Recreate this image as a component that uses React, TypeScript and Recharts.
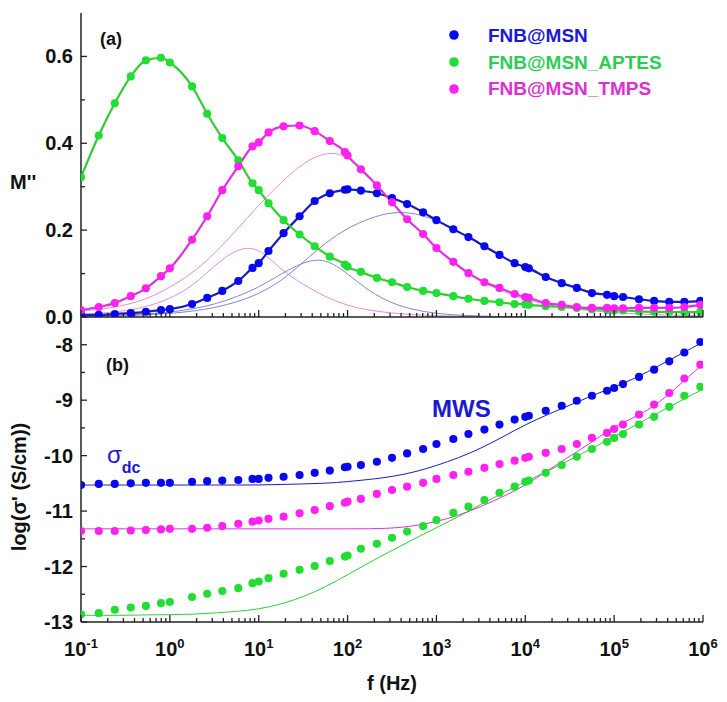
import { ComposedChart, Line, Scatter, XAxis, YAxis, ZAxis } from 'recharts';

// log10(f / Hz) of the measured points
const logF = [
  -1, -0.8, -0.62, -0.44, -0.27, -0.1, 0, 0.25, 0.42, 0.59, 0.77, 0.93, 1.0, 1.11, 1.28, 1.46,
  1.63, 1.8, 1.97, 2.0, 2.15, 2.33, 2.5, 2.67, 2.85, 3.0, 3.19, 3.36, 3.54, 3.71, 3.88, 4.0,
  4.04, 4.23, 4.41, 4.58, 4.75, 4.92, 5.0, 5.1, 5.28, 5.45, 5.62, 5.79, 5.97,
];

// (a) M''
const mMsn = [
  0.005, 0.005, 0.007, 0.009, 0.012, 0.016, 0.018, 0.03, 0.044, 0.06, 0.083, 0.113, 0.124, 0.152,
  0.193, 0.232, 0.267, 0.285, 0.293, 0.294, 0.291, 0.285, 0.274, 0.26, 0.241, 0.223, 0.202, 0.184,
  0.163, 0.143, 0.124, 0.115, 0.112, 0.092, 0.078, 0.067, 0.055, 0.051, 0.048, 0.046, 0.041, 0.037,
  0.035, 0.035, 0.037,
];
const mAptes = [
  0.322, 0.418, 0.492, 0.554, 0.591, 0.597, 0.586, 0.531, 0.468, 0.412, 0.361, 0.308, 0.292, 0.262,
  0.223, 0.19, 0.163, 0.139, 0.121, 0.116, 0.104, 0.09, 0.08, 0.069, 0.06, 0.055, 0.048, 0.042,
  0.037, 0.034, 0.03, 0.029, 0.028, 0.025, 0.023, 0.021, 0.018, 0.016, 0.015, 0.015, 0.013, 0.012,
  0.012, 0.011, 0.012,
];
const mTmps = [
  0.016, 0.023, 0.032, 0.048, 0.066, 0.094, 0.112, 0.178, 0.232, 0.292, 0.347, 0.393, 0.402, 0.425,
  0.439, 0.441, 0.428, 0.405, 0.38, 0.372, 0.34, 0.303, 0.264, 0.225, 0.191, 0.159, 0.127, 0.101,
  0.08, 0.067, 0.053, 0.046, 0.044, 0.032, 0.028, 0.023, 0.021, 0.021, 0.02, 0.02, 0.021, 0.021,
  0.021, 0.023, 0.028,
];

// (b) log(sigma')
const sMsn = [
  -10.53, -10.51, -10.51, -10.5, -10.49, -10.49, -10.49, -10.47, -10.46, -10.45, -10.44, -10.42,
  -10.42, -10.4, -10.38, -10.35, -10.31, -10.27, -10.21, -10.2, -10.17, -10.11, -10.04, -9.96, -9.88,
  -9.79, -9.7, -9.61, -9.53, -9.44, -9.35, -9.3, -9.28, -9.19, -9.1, -9.01, -8.92, -8.83, -8.78,
  -8.71, -8.58, -8.45, -8.3, -8.14, -7.95,
];
const sAptes = [
  -12.86, -12.84, -12.78, -12.74, -12.71, -12.66, -12.64, -12.55, -12.49, -12.44, -12.39, -12.3,
  -12.27, -12.21, -12.13, -12.06, -11.99, -11.9, -11.82, -11.8, -11.68, -11.59, -11.48, -11.37,
  -11.27, -11.16, -11.03, -10.92, -10.8, -10.67, -10.56, -10.47, -10.45, -10.31, -10.17, -10.02,
  -9.88, -9.75, -9.68, -9.61, -9.44, -9.3, -9.12, -8.92, -8.76,
];
const sTmps = [
  -11.36, -11.36, -11.36, -11.35, -11.34, -11.33, -11.32, -11.32, -11.3, -11.27, -11.23, -11.19,
  -11.17, -11.14, -11.1, -11.04, -10.98, -10.91, -10.85, -10.83, -10.78, -10.69, -10.62, -10.56,
  -10.49, -10.42, -10.35, -10.29, -10.22, -10.15, -10.09, -10.04, -10.02, -9.95, -9.88, -9.79, -9.68,
  -9.59, -9.52, -9.44, -9.26, -9.08, -8.87, -8.61, -8.36,
];

// fitted curves, on a quarter-decade grid
const fitLogF = [
  -1, -0.75, -0.5, -0.25, 0, 0.25, 0.5, 0.75, 1, 1.25, 1.5, 1.75, 2, 2.25, 2.5, 2.75, 3, 3.25, 3.5,
  3.75, 4, 4.25, 4.5, 4.75, 5, 5.25, 5.5, 5.75, 6,
];
const compMsn1 = [
  0.002, 0.003, 0.004, 0.007, 0.011, 0.018, 0.029, 0.046, 0.068, 0.099, 0.127, 0.136, 0.1, 0.058,
  0.031, 0.016, 0.008, 0.004, 0.002, 0.001, 0, 0, 0, 0, 0, 0, 0, 0, 0,
];
const compMsn2 = [
  0.001, 0.002, 0.003, 0.005, 0.008, 0.013, 0.021, 0.034, 0.053, 0.082, 0.126, 0.171, 0.205, 0.228,
  0.242, 0.24, 0.223, 0.199, 0.165, 0.137, 0.113, 0.09, 0.072, 0.057, 0.048, 0.041, 0.036, 0.034,
  0.035,
];
const compTmps1 = [
  0.006, 0.009, 0.014, 0.024, 0.042, 0.07, 0.118, 0.158, 0.162, 0.108, 0.075, 0.046, 0.026, 0.015,
  0.009, 0.005, 0.003, 0.002, 0.001, 0.001, 0, 0, 0, 0, 0, 0, 0, 0, 0,
];
const compTmps2 = [
  0.014, 0.018, 0.027, 0.042, 0.068, 0.1, 0.145, 0.2, 0.258, 0.31, 0.355, 0.381, 0.373, 0.324, 0.264,
  0.21, 0.158, 0.117, 0.083, 0.058, 0.04, 0.028, 0.02, 0.014, 0.01, 0.007, 0.005, 0.004, 0.003,
];
const fitSMsn = [
  -10.53, -10.53, -10.53, -10.53, -10.53, -10.53, -10.53, -10.53, -10.53, -10.52, -10.51, -10.5,
  -10.47, -10.43, -10.38, -10.3, -10.18, -10.04, -9.87, -9.66, -9.44, -9.26, -9.09, -8.92, -8.76,
  -8.6, -8.38, -8.17, -7.95,
];
const fitSAptes = [
  -12.88, -12.88, -12.88, -12.87, -12.87, -12.86, -12.84, -12.81, -12.77, -12.68, -12.55, -12.37,
  -12.15, -11.92, -11.71, -11.5, -11.3, -11.1, -10.88, -10.67, -10.47, -10.28, -10.08, -9.87, -9.65,
  -9.45, -9.22, -9.01, -8.8,
];
const fitSTmps = [
  -11.32, -11.32, -11.32, -11.32, -11.32, -11.32, -11.32, -11.32, -11.32, -11.32, -11.32, -11.32,
  -11.32, -11.32, -11.31, -11.27, -11.19, -11.08, -10.92, -10.74, -10.54, -10.27, -10.01, -9.76,
  -9.47, -9.3, -9.06, -8.7, -8.35,
];

const seriesNames = ['FNB@MSN', 'FNB@MSN_APTES', 'FNB@MSN_TMPS'];
const dotColors = ['#0808ee', '#22dd33', '#ff22ee'];
const lineColors = ['#1c1cb8', '#33cc33', '#e030e0'];
const textColors = ['#1a1ad0', '#2ecc55', '#dd30d0'];

const xMajor = [-1, 0, 1, 2, 3, 4, 5, 6];
const xTicks = xMajor.concat(
  xMajor.slice(0, -1).flatMap((d) => [2, 3, 4, 5, 6, 7, 8, 9].map((k) => d + Math.log10(k))),
);
const yTopTicks = [0, 0.1, 0.2, 0.3, 0.4, 0.5, 0.6];
const yTopMajor = [0, 0.2, 0.4, 0.6];
const yBotTicks = [-13, -12.5, -12, -11.5, -11, -10.5, -10, -9.5, -9, -8.5, -8];
const yBotMajor = [-13, -12, -11, -10, -9, -8];

const FONT = '"Liberation Sans", Arial, sans-serif';
const AXIS = '#222';

const pts = (xs: number[], ys: number[]) => xs.map((x, i) => ({ x, y: ys[i] }));

function XTick(props: any) {
  const { x, y, payload, dir, labels } = props;
  const v = payload.value;
  const major = xMajor.includes(v);
  const len = major ? 7 : 4;
  return (
    <g>
      <line x1={x} x2={x} y1={y} y2={y + dir * len} stroke={AXIS} strokeWidth={1.3} />
      {labels && major && (
        <text x={x} y={y + 34} textAnchor="middle" fontFamily={FONT} fontWeight="bold" fontSize={20} fill="#111">
          10
          <tspan dy={-8} fontSize={13}>
            {v}
          </tspan>
        </text>
      )}
    </g>
  );
}

function YTick(props: any) {
  const { x, y, payload, majors, digits } = props;
  const v = payload.value;
  const major = majors.includes(v);
  return (
    <g>
      <line x1={x} x2={x + (major ? 6 : 4)} y1={y} y2={y} stroke={AXIS} strokeWidth={1.3} />
      {major && (
        <text x={x - 8} y={y + 7} textAnchor="end" fontFamily={FONT} fontWeight="bold" fontSize={20} fill="#111">
          {v.toFixed(digits)}
        </text>
      )}
    </g>
  );
}

const xCommon = {
  type: 'number' as const,
  dataKey: 'x',
  domain: [-1, 6],
  allowDataOverflow: true,
  ticks: xTicks,
  interval: 0 as const,
  tickLine: false,
  tickSize: 0,
  tickMargin: 0,
  axisLine: { stroke: AXIS, strokeWidth: 1.5 },
};

export default function App() {
  const mData = [mMsn, mAptes, mTmps];
  const sData = [sMsn, sAptes, sTmps];
  const sFits = [fitSMsn, fitSAptes, fitSTmps];
  return (
    <div style={{ position: 'absolute', left: 0, top: 0, width: 727, height: 702, background: '#fff' }}>
      <div style={{ position: 'absolute', left: 0, top: 0 }}>
        <ComposedChart width={727} height={330} margin={{ top: 13, right: 24, bottom: 0, left: 0 }}>
          <XAxis {...xCommon} height={13} tick={<XTick dir={-1} labels={false} />} />
          <XAxis {...xCommon} xAxisId="top" orientation="top" height={0} tick={false} />
          <YAxis
            type="number"
            dataKey="y"
            domain={[0, 0.7]}
            allowDataOverflow
            ticks={yTopTicks}
            interval={0}
            width={81}
            tickLine={false}
            tickSize={0}
            tickMargin={0}
            axisLine={{ stroke: AXIS, strokeWidth: 1.5 }}
            tick={<YTick majors={yTopMajor} digits={1} />}
          />
          <YAxis yAxisId="right" orientation="right" domain={[0, 0.7]} width={0} tick={false} axisLine={{ stroke: AXIS, strokeWidth: 1.5 }} />
          <ZAxis range={[52, 52]} />
          <Line data={pts(fitLogF, compTmps1)} dataKey="y" type="basis" stroke="#dc8fdc" strokeWidth={1} dot={false} isAnimationActive={false} />
          <Line data={pts(fitLogF, compTmps2)} dataKey="y" type="basis" stroke="#dc8fdc" strokeWidth={1} dot={false} isAnimationActive={false} />
          <Line data={pts(fitLogF, compMsn1)} dataKey="y" type="basis" stroke="#8484d4" strokeWidth={1} dot={false} isAnimationActive={false} />
          <Line data={pts(fitLogF, compMsn2)} dataKey="y" type="basis" stroke="#8484d4" strokeWidth={1} dot={false} isAnimationActive={false} />
          {mData.map((ys, i) => (
            <Line key={'l' + i} data={pts(logF, ys)} dataKey="y" type="monotone" stroke={lineColors[i]} strokeWidth={2.2} dot={false} isAnimationActive={false} />
          ))}
          {mData.map((ys, i) => (
            <Scatter key={'s' + i} name={seriesNames[i]} data={pts(logF, ys)} dataKey="y" fill={dotColors[i]} isAnimationActive={false} />
          ))}
        </ComposedChart>
      </div>
      <div style={{ position: 'absolute', left: 0, top: 317 }}>
        <ComposedChart width={727} height={385} margin={{ top: 0, right: 24, bottom: 0, left: 0 }}>
          <XAxis
            {...xCommon}
            height={80}
            tick={<XTick dir={-1} labels />}
            label={{ value: 'f (Hz)', position: 'insideBottom', offset: 12, style: { fontFamily: FONT, fontWeight: 'bold', fontSize: 20, fill: '#111' } }}
          />
          <XAxis {...xCommon} xAxisId="top" orientation="top" height={0} tick={<XTick dir={1} labels={false} />} />
          <YAxis
            type="number"
            dataKey="y"
            domain={[-13, -7.5]}
            allowDataOverflow
            ticks={yBotTicks}
            interval={0}
            width={81}
            tickLine={false}
            tickSize={0}
            tickMargin={0}
            axisLine={{ stroke: AXIS, strokeWidth: 1.5 }}
            tick={<YTick majors={yBotMajor} digits={0} />}
          />
          <YAxis yAxisId="right" orientation="right" domain={[-13, -7.5]} width={0} tick={false} axisLine={{ stroke: AXIS, strokeWidth: 1.5 }} />
          <ZAxis range={[52, 52]} />
          {sFits.map((ys, i) => (
            <Line key={'f' + i} data={pts(fitLogF, ys)} dataKey="y" type="basis" stroke={lineColors[i]} strokeWidth={1} dot={false} isAnimationActive={false} />
          ))}
          {sData.map((ys, i) => (
            <Scatter key={'p' + i} name={seriesNames[i]} data={pts(logF, ys)} dataKey="y" fill={dotColors[i]} isAnimationActive={false} />
          ))}
        </ComposedChart>
      </div>
      <svg width={727} height={702} style={{ position: 'absolute', left: 0, top: 0, pointerEvents: 'none' }} fontFamily={FONT} fontWeight="bold">
        <text x={100} y={45} fontSize={18} fill="#111">(a)</text>
        <text x={106} y={371} fontSize={18} fill="#111">(b)</text>
        <text x={10} y={189} fontSize={20} fill="#111">M''</text>
        <text x={0} y={0} fontSize={20} fill="#111" textAnchor="middle" transform="translate(26,487) rotate(-90)">
          log(σ' (S/cm))
        </text>
        <text x={432} y={417} fontSize={24} fill={textColors[0]}>MWS</text>
        <text x={107} y={463} fontSize={24} fontWeight="normal" fill={textColors[0]}>
          σ<tspan dy={10} fontSize={16} fontWeight="bold">dc</tspan>
        </text>
        {seriesNames.map((n, i) => (
          <g key={n}>
            <circle cx={454} cy={35 + i * 27} r={4.8} fill={dotColors[i]} />
            <text x={488} y={42 + i * 26.5} fontSize={19} fill={textColors[i]}>{n}</text>
          </g>
        ))}
      </svg>
    </div>
  );
}
